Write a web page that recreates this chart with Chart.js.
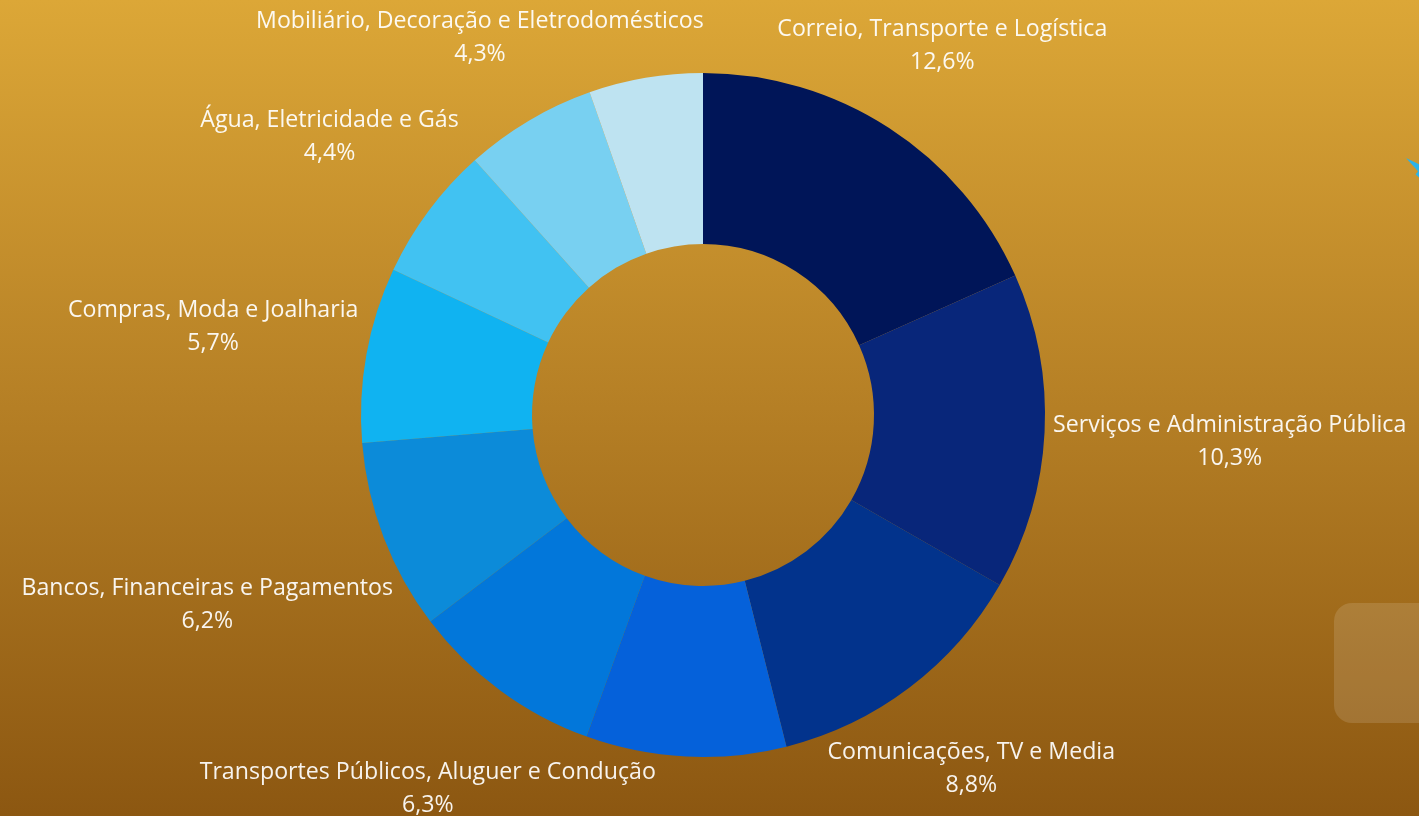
<!DOCTYPE html>
<html>
<head>
<meta charset="utf-8">
<script src="https://cdn.jsdelivr.net/npm/chart.js@4/dist/chart.umd.min.js"></script>
<style>
  html, body { margin: 0; padding: 0; width: 1419px; height: 816px; overflow: hidden; }
  body { background: linear-gradient(180deg, #DCA737 0%, #B57F25 50%, #8C5711 100%); position: relative; }
  #wrap { position: absolute; left: 0; top: 0; width: 1419px; height: 816px; }
  .card { position: absolute; left: 1334px; top: 603px; width: 120px; height: 120px; border-radius: 18px; background: rgba(255,255,255,0.13); }
  .streak { position: absolute; left: 1406px; top: 158px; width: 16px; height: 22px; background: #2AB3EA; clip-path: polygon(0% 0%, 100% 35%, 100% 100%, 60% 75%, 75% 60%); }
</style>
</head>
<body>
<div class="card"></div>
<div class="streak"></div>
<div id="wrap"><canvas id="c" width="1419" height="816"></canvas></div>
<script>
// Categories (two slices have labels cut off outside the picture; names unknown)
const categories = [
  "Correio, Transporte e Logística",
  "Serviços e Administração Pública",
  "Comunicações, TV e Media",
  "",
  "Transportes Públicos, Aluguer e Condução",
  "Bancos, Financeiras e Pagamentos",
  "Compras, Moda e Joalharia",
  "Água, Eletricidade e Gás",
  "Mobiliário, Decoração e Eletrodomésticos",
  ""
];
const values = [12.6, 10.3, 8.8, 6.5, 6.3, 6.2, 5.7, 4.4, 4.3, 3.7];
const valueLabels = ["12,6%", "10,3%", "8,8%", "6,5%", "6,3%", "6,2%", "5,7%", "4,4%", "4,3%", "3,7%"];
const sliceColors = ["#001558", "#08267A", "#02338C", "#0561DA", "#0277DA", "#0C8BD9", "#10B3F1", "#41C2F2", "#78D0F1", "#BEE3F1"];

const FONT_FAMILY = "'Open Sans', 'Noto Sans', sans-serif";

const labelPlugin = {
  id: 'outerLabels',
  afterDatasetsDraw(chart) {
    const ctx = chart.ctx;
    const meta = chart.getDatasetMeta(0);
    ctx.save();
    ctx.font = "400 20px " + FONT_FAMILY;
    const w20 = ctx.measureText("Correio, Transporte e Logística").width;
    const size = 20 * 330 / w20;
    ctx.font = "400 " + size.toFixed(2) + "px " + FONT_FAMILY;
    ctx.fillStyle = "rgba(255,255,255,0.93)";
    ctx.textAlign = "center";
    ctx.textBaseline = "middle";
    const lineGap = 16.5;
    const hh = 27;
    meta.data.forEach((arc, i) => {
      if (!categories[i]) return;
      const p = arc.getProps(['x', 'y', 'startAngle', 'endAngle', 'outerRadius'], true);
      const mid = (p.startAngle + p.endAngle) / 2;
      const vx = Math.cos(mid), vy = Math.sin(mid);
      const hw = Math.max(ctx.measureText(categories[i]).width, ctx.measureText(valueLabels[i]).width) / 2;
      const D = p.outerRadius + 8;
      const dist = (r) => {
        const dx = Math.max(0, Math.abs(r * vx) - hw);
        const dy = Math.max(0, Math.abs(r * vy) - hh);
        return Math.hypot(dx, dy);
      };
      let lo = 0, hi = p.outerRadius * 4;
      for (let k = 0; k < 60; k++) {
        const m = (lo + hi) / 2;
        if (dist(m) < D) lo = m; else hi = m;
      }
      const r = (lo + hi) / 2;
      const cx = p.x + vx * r;
      const cy = p.y + vy * r;
      ctx.fillText(categories[i], cx, cy - lineGap);
      ctx.fillText(valueLabels[i], cx, cy + lineGap);
    });
    ctx.restore();
  }
};

new Chart(document.getElementById('c'), {
  type: 'doughnut',
  data: {
    labels: categories,
    datasets: [{
      data: values,
      backgroundColor: sliceColors,
      borderWidth: 0,
      hoverOffset: 0
    }]
  },
  options: {
    responsive: false,
    animation: false,
    cutout: '50%',
    layout: { padding: { top: 73, bottom: 59, left: 0, right: 13 } },
    plugins: {
      legend: { display: false },
      tooltip: { enabled: false }
    }
  },
  plugins: [labelPlugin]
});
</script>
</body>
</html>
